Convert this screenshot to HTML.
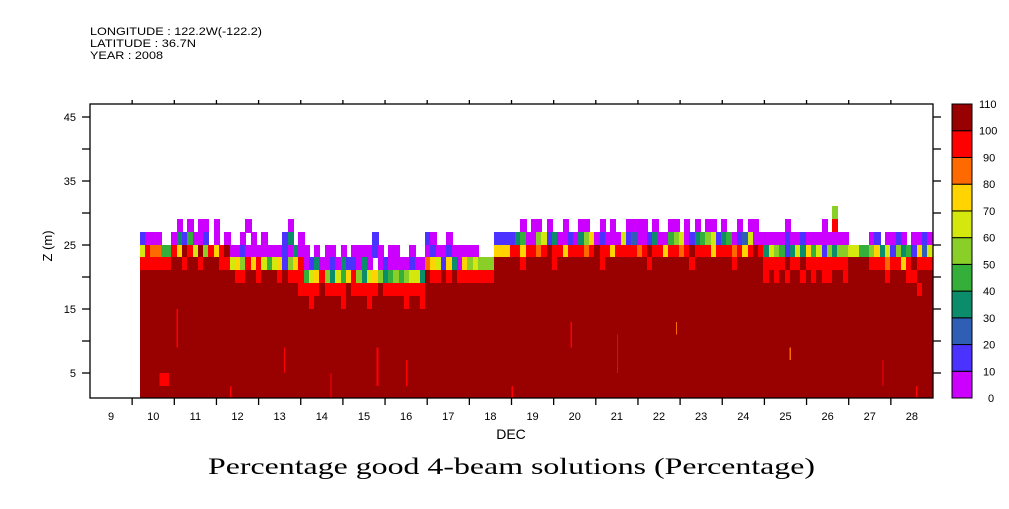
<!DOCTYPE html>
<html><head><meta charset="utf-8"><style>
body{margin:0;background:#fff}
svg text{font-family:"Liberation Sans",sans-serif;}
#cells rect{shape-rendering:crispEdges}
</style></head><body>
<svg id="chart" width="1009" height="504" xmlns="http://www.w3.org/2000/svg">
<g font-size="11" fill="#000">
<text x="90" y="35" textLength="172" lengthAdjust="spacingAndGlyphs">LONGITUDE : 122.2W(-122.2)</text>
<text x="90" y="47" textLength="106" lengthAdjust="spacingAndGlyphs">LATITUDE : 36.7N</text>
<text x="90" y="59" textLength="73" lengthAdjust="spacingAndGlyphs">YEAR : 2008</text>
</g>
<g id="cells"></g>
<g id="axes"></g>
<g id="cbar"></g>
<text x="511" y="439" text-anchor="middle" font-size="14">DEC</text>
<text transform="translate(52,246) rotate(-90)" text-anchor="middle" font-size="13">Z (m)</text>
<text x="208" y="474" textLength="607" lengthAdjust="spacingAndGlyphs" font-size="23" style="font-family:'Liberation Serif',serif">Percentage good 4-beam solutions (Percentage)</text>
</svg>
<script>
const xDays=[9,10,11,12,13,14,15,16,17,18,19,20,21,22,23,24,25,26,27,28];
const yTicks=[5,15,25,35,45];
const yMinor=[10,20,30,40];
const cbarLevels=[0,10,20,30,40,50,60,70,80,90,100,110];
const cbarColors=["#cc00ff","#4b32ff","#2e5fb4","#0b8c6a","#34b03a","#8ace28","#d4e80e","#ffd400","#ff6a00","#ff0000","#990000"];
const tStart=10.19, tEnd=29.0, nCols=150;
const rowBottoms=[29,27,25,23,21,19,17,15];
const row29=["    ","  ","           ","       ","       ","                  ","     ","          ","   ","   ","                                                ","             ","5","  ","    ","            "];
const row27=["    ","  "," 0 0 00 0  ","   0   ","    0  ","                  ","     ","          ","   ","   ","  0 00 0  0 "+" 00  0 0  00"+"00 0  00 0 0"+" 00 0  0 00 ","    0      0 ","9","  ","    ","            "];
const row25=["1000","  ","0314001 0 0","  0 0 0","   13 0","             1    ","     ","10  0     ","   ","111","134005613001"+"035701000612"+"001300456013"+"456134012600","0000100100000","0","00","    ","01 0010 0010"];
const row23=["6988","44","97a96a5979a","0010000","0001030","0 0 00 0 000010 00","  0  ","0100100000","   ","777","9979989a9979"+"9989a9979999"+"89a9979989a9"+"9979998979a9","3654136374615","3","55","6644","573615341726"];
const row21=["9999","99","aa9aa9aaa99","6759796","4671579","0130010311030 0100","00100","8761730756","555","aaa","aa9aaaaa9aaa"+"aaaaa9aaaaaa"+"aa9aaaaaaa9a"+"aaaaaa9aaaaa","9999a99a99999","9","99","aaaa","99989979a999"];
const row19=["aaaa","aa","aaaaaaaaaaa","a99aa9a","aa9a999","467953647953675345","45663","a99a9a9999","999","aaa","aaaaaaaaaaaa"+"aaaaaaaaaaaa"+"aaaaaaaaaaaa"+"aaaaaaaaaaaa","9a9a9aa9a9a99","a","a9","aaaa","aaa9aaa99aaa"];
const row17=["aaaa","aa","aaaaaaaaaaa","aaaaaaa","aaaaaa9","999a9999a99999a999","99999","aaaaaaaaaa","aaa","aaa","aaaaaaaaaaaa"+"aaaaaaaaaaaa"+"aaaaaaaaaaaa"+"aaaaaaaaaaaa","aaaaaaaaaaaaa","a","aa","aaaa","aaaaaaaaa9aa"];
const row15=["aaaa","aa","aaaaaaaaaaa","aaaaaaa","aaaaaaa","a9aaaaa9aaaa9aaaaa","a9aa9","aaaaaaaaaa","aaa","aaa","aaaaaaaaaaaa"+"aaaaaaaaaaaa"+"aaaaaaaaaaaa"+"aaaaaaaaaaaa","aaaaaaaaaaaaa","a","aa","aaaa","aaaaaaaaaaaa"];
const baseZ=[1,15];
const streaks=[[10.65,10.88,3,5,"9"],[12.32,12.36,1,3,"9"],[11.05,11.09,9,15,"9"],[15.8,15.84,3,9,"9"],[21.5,21.53,5,11,"9"],[22.9,22.93,11,13,"8"],[25.6,25.63,7,9,"8"],[27.8,27.83,3,7,"9"],[28.6,28.63,1,3,"9"],[19.0,19.04,1,3,"9"],[16.5,16.53,3,7,"9"],[13.6,13.63,5,9,"9"],[14.7,14.73,1,5,"9"],[20.4,20.43,9,13,"9"]];

const L=90,R=933,T=104,B=398;
const xs=d=>L+(d-9)*(R-L)/20;
const ys=z=>373-(z-5)*6.4;
const NS="http://www.w3.org/2000/svg";
function mk(tag,parent){const e=document.createElementNS(NS,tag);parent.appendChild(e);return e;}
const colorOf=c=>cbarColors[parseInt(c,16)];
const cells=document.getElementById('cells');
const dt=(tEnd-tStart)/nCols;
const base=mk('rect',cells);


base.setAttribute('x',xs(tStart));base.setAttribute('width',xs(tEnd)-xs(tStart));
base.setAttribute('y',ys(baseZ[1]));base.setAttribute('height',ys(baseZ[0])-ys(baseZ[1]));
base.setAttribute('fill',cbarColors[10]);
const rows=[row29,row27,row25,row23,row21,row19,row17,row15];
rows.forEach((segs,ri)=>{
  const s=segs.join('');
  const z0=rowBottoms[ri];
  for(let i=0;i<Math.min(s.length,nCols);i++){
    const c=s[i]; if(c===' ')continue;
    const r=mk('rect',cells);
    
    
    const x0=Math.floor(xs(tStart+i*dt)),x1=Math.ceil(xs(tStart+(i+1)*dt));
    const y0=Math.floor(ys(z0+2)),y1=Math.ceil(ys(z0));
    r.setAttribute('x',x0);r.setAttribute('width',x1-x0);
    r.setAttribute('y',y0);r.setAttribute('height',y1-y0);
    r.setAttribute('fill',colorOf(c));
  }
});
streaks.forEach(st=>{
  const r=mk('rect',cells);
  
  
  r.setAttribute('x',xs(st[0]));r.setAttribute('width',Math.max(1.2,xs(st[1])-xs(st[0])));
  r.setAttribute('y',ys(st[3]));r.setAttribute('height',ys(st[2])-ys(st[3]));
  r.setAttribute('fill',colorOf(st[4]));
});
const ax=document.getElementById('axes');
const frame=mk('rect',ax);


frame.setAttribute('x',L);frame.setAttribute('y',T);frame.setAttribute('width',R-L);frame.setAttribute('height',B-T);
frame.setAttribute('fill','none');frame.setAttribute('stroke','#000');frame.setAttribute('stroke-width','1.3');
function line(x1,y1,x2,y2,name){const l=mk('line',ax);
 l.setAttribute('x1',x1);l.setAttribute('y1',y1);l.setAttribute('x2',x2);l.setAttribute('y2',y2);l.setAttribute('stroke','#000');l.setAttribute('stroke-width','1.3');}
xDays.forEach(d=>{
  const x=xs(d);
  if(d>9){line(x,B,x,B+7,'x-tick');line(x,T,x,T-4,'x-tick-top');}
  const t=mk('text',ax);
  
  
  t.setAttribute('x',xs(d+0.5));t.setAttribute('y',420);t.setAttribute('text-anchor','middle');t.setAttribute('font-size','11');
  t.textContent=d;
});
yTicks.concat(yMinor).forEach(z=>{line(L-8,ys(z),L,ys(z),'y-tick');line(R,ys(z),R+8,ys(z),'y-tick-right');});
yTicks.forEach(z=>{
  const t=mk('text',ax);
  
  
  t.setAttribute('x',76);t.setAttribute('y',ys(z)+4);t.setAttribute('text-anchor','end');t.setAttribute('font-size','11');
  t.textContent=z;
});
const cb=document.getElementById('cbar');
const cbT=104,cbB=398,cbL=952,cbW=20;
const cy=v=>cbB-(v-0)*(cbB-cbT)/110;
cbarColors.forEach((c,i)=>{
  const r=mk('rect',cb);
  
  
  r.setAttribute('x',cbL);r.setAttribute('width',cbW);
  r.setAttribute('y',cy(cbarLevels[i+1]));r.setAttribute('height',cy(cbarLevels[i])-cy(cbarLevels[i+1]));
  r.setAttribute('fill',c);r.setAttribute('stroke','#000');r.setAttribute('stroke-width','1');
});
cbarLevels.forEach(v=>{
  const t=mk('text',cb);
  
  
  t.setAttribute('x',v>=100?979:(v===0?988:983));t.setAttribute('y',cy(v)+4);t.setAttribute('font-size','11');
  t.textContent=v;
});
</script>
</body></html>
